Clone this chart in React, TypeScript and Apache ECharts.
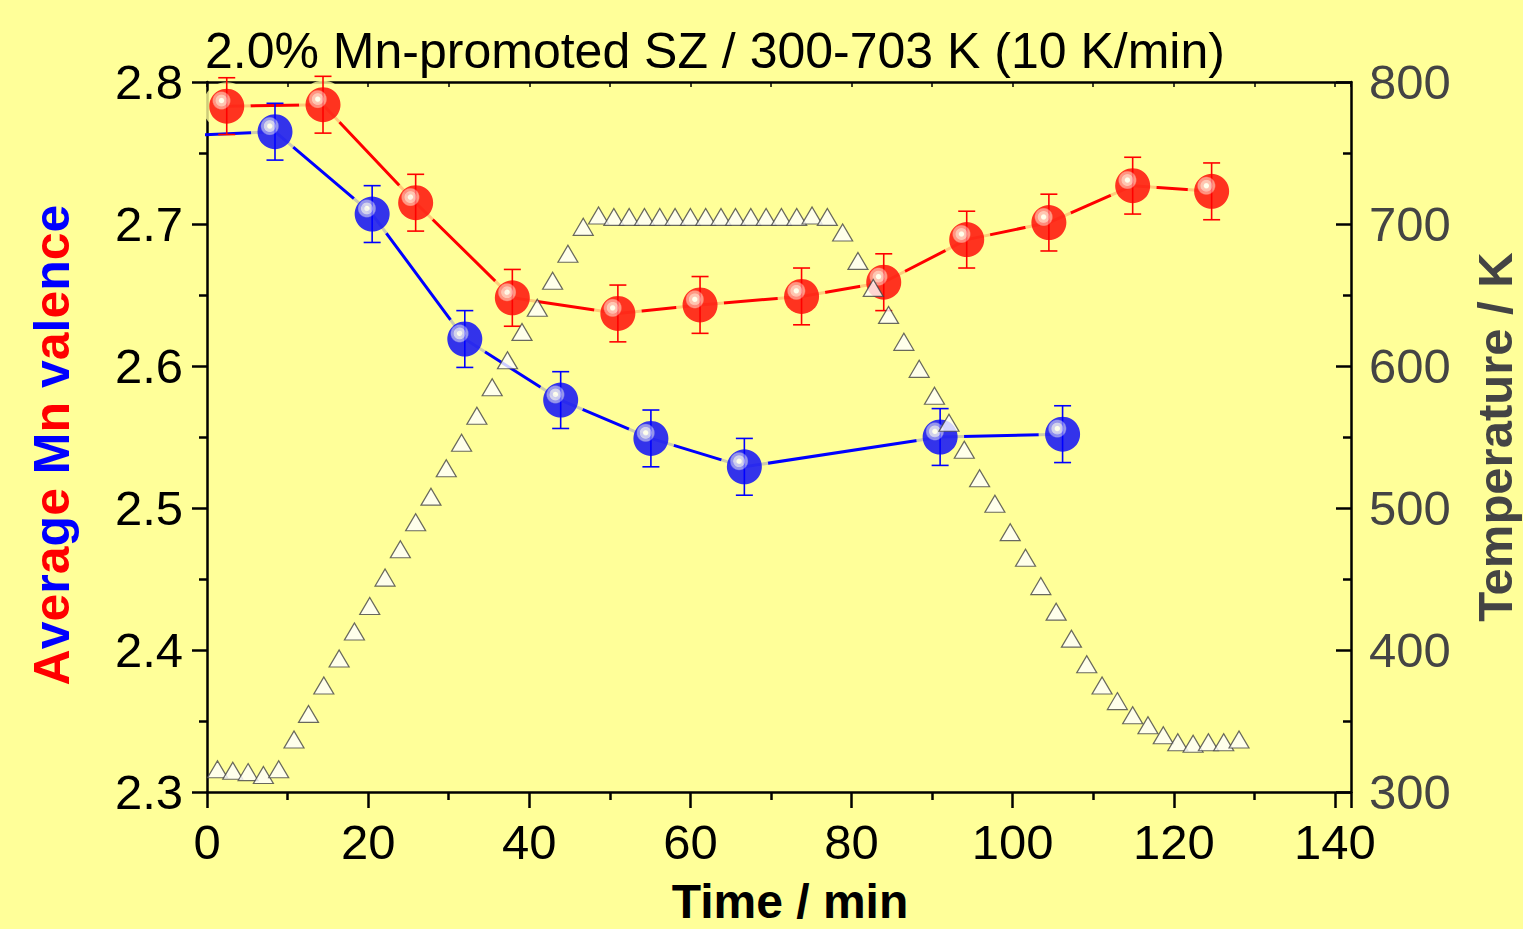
import React, { useEffect, useRef } from "react";
import * as echarts from "echarts";

// Red series (Average Mn valence, red)
const redTime = [2.45, 14.4, 25.9, 37.9, 51.0, 61.2, 73.8, 84.0, 94.3, 104.5, 114.9, 124.7];
const redVal = [2.783, 2.784, 2.715, 2.648, 2.637, 2.643, 2.649, 2.659, 2.689, 2.701, 2.727, 2.723];
const redErr = [0.02, 0.02, 0.02, 0.02, 0.02, 0.02, 0.02, 0.02, 0.02, 0.02, 0.02, 0.02];

// Blue series (first point lies left of the axis and is clipped)
const blueTime = [-4, 8.44, 20.5, 32.0, 43.9, 55.1, 66.7, 91.0, 106.2];
const blueVal = [2.762, 2.765, 2.707, 2.619, 2.576, 2.549, 2.529, 2.55, 2.552];
const blueErr = [0, 0.02, 0.02, 0.02, 0.02, 0.02, 0.02, 0.02, 0.02];

// Temperature profile (right axis)
const tempTime = [
  1.3, 3.2, 5.1, 7.0, 8.9, 10.8, 12.6, 14.5, 16.4, 18.3, 20.2, 22.1, 24.0, 25.9, 27.8, 29.7, 31.6,
  33.5, 35.4, 37.3, 39.1, 41.0, 42.9, 44.8, 46.7, 48.6, 50.5, 52.4, 54.3, 56.2, 58.1, 60.0, 61.9,
  63.8, 65.6, 67.5, 69.4, 71.3, 73.2, 75.1, 77.0, 78.9, 80.8, 82.7, 84.6, 86.5, 88.4, 90.3, 92.1,
  94.0, 95.9, 97.8, 99.7, 101.6, 103.5, 105.4, 107.3, 109.2, 111.1, 113.0, 114.9, 116.8, 118.7,
  120.5, 122.4, 124.3, 126.2, 128.1,
];
const tempVal = [
  316, 315, 314, 312, 316, 337, 355, 375, 394, 413, 431, 451, 471, 490, 508, 528, 546, 565, 585,
  604, 624, 641, 660, 679, 698, 706, 705, 705, 705, 705, 705, 705, 705, 705, 705, 705, 705, 705,
  705, 706, 705, 694, 674, 655, 636, 617, 598, 579, 560, 541, 521, 503, 483, 465, 445, 427, 408,
  390, 375, 364, 354, 347, 340, 335, 334, 335, 335, 337,
];

const xTicks = { min: 0, max: 142, interval: 20 };
const yLeft = { min: 2.3, max: 2.8, interval: 0.1 };
const yRight = { min: 300, max: 800, interval: 100 };

const titleText = "2.0% Mn-promoted SZ / 300-703 K (10 K/min)";
const xName = "Time / min";
const yRightName = "Temperature / K";
const yLeftName =
  "{r|A}{b|v}{r|e}{b|r}{r|a}{b|g}{r|e} {b|M}{r|n} {b|v}{r|a}{b|l}{r|e}{b|n}{r|c}{b|e}";

const FONT = "'Liberation Sans', Arial, Helvetica, sans-serif";
const BG = "#ffff99";

function ball(main: string, ring1: string, ring2: string) {
  return {
    type: "radial",
    x: 0.35,
    y: 0.34,
    r: 0.3,
    colorStops: [
      { offset: 0, color: "#ffffff" },
      { offset: 0.2, color: "#ffffff" },
      { offset: 0.3, color: ring1 },
      { offset: 0.52, color: ring1 },
      { offset: 0.6, color: ring2 },
      { offset: 0.78, color: ring2 },
      { offset: 0.9, color: main },
      { offset: 1, color: main },
    ],
  };
}

function errorBars(color: string) {
  return (params: any, api: any) => {
    const x = api.value(0);
    const y = api.value(1);
    const e = api.value(2);
    if (!e) return null;
    const c = api.coord([x, y]);
    const t = api.coord([x, y + e]);
    const b = api.coord([x, y - e]);
    const hw = 8.5;
    const style = { stroke: color, lineWidth: 1.6 };
    return {
      type: "group",
      children: [
        { type: "line", shape: { x1: c[0], y1: t[1], x2: c[0], y2: b[1] }, style },
        { type: "line", shape: { x1: c[0] - hw, y1: t[1], x2: c[0] + hw, y2: t[1] }, style },
        { type: "line", shape: { x1: c[0] - hw, y1: b[1], x2: c[0] + hw, y2: b[1] }, style },
      ],
    };
  };
}

export default function App() {
  const ref = useRef<HTMLDivElement>(null);
  useEffect(() => {
    const chart = echarts.init(ref.current!, null, { renderer: "svg" });
    const redPts = redTime.map((t, i) => [t, redVal[i]]);
    const bluePts = blueTime.map((t, i) => [t, blueVal[i]]);
    const blueVisible = bluePts.filter((p) => p[0] >= 0);
    const tempPts = tempTime.map((t, i) => [t, tempVal[i]]);
    const axisLineStyle = { color: "#000", width: 2.5 };

    const option: any = {
      animation: false,
      backgroundColor: BG,
      title: {
        text: titleText,
        left: 205,
        top: 26,
        padding: 0,
        textStyle: { fontSize: 50, fontWeight: "normal", color: "#000", fontFamily: FONT },
      },
      grid: {
        left: 207,
        right: 172,
        top: 82,
        bottom: 137,
        containLabel: false,
        outerBoundsMode: "none",
      },
      xAxis: [
        {
          type: "value",
          position: "bottom",
          min: xTicks.min,
          max: xTicks.max,
          interval: xTicks.interval,
          axisLine: { show: true, onZero: false, lineStyle: axisLineStyle },
          axisTick: { show: true, inside: false, length: 16, lineStyle: axisLineStyle },
          minorTick: { show: true, splitNumber: 2, length: 8, lineStyle: axisLineStyle },
          splitLine: { show: false },
          axisLabel: {
            fontSize: 49,
            color: "#000",
            margin: 25,
            fontFamily: FONT,
            showMaxLabel: false,
          },
          name: xName,
          nameLocation: "middle",
          nameGap: 89,
          nameTextStyle: {
            fontSize: 48,
            lineHeight: 40,
            fontWeight: "bold",
            color: "#000",
            fontFamily: FONT,
            padding: [0, 0, 0, 22],
          },
        },
        {
          type: "value",
          position: "top",
          min: xTicks.min,
          max: xTicks.max,
          interval: 10,
          axisLine: { show: true, onZero: false, lineStyle: axisLineStyle },
          axisTick: { show: true, inside: true, length: 5, lineStyle: { color: "#000", width: 1.5 } },
          axisLabel: { show: false },
          splitLine: { show: false },
        },
      ],
      yAxis: [
        {
          type: "value",
          position: "left",
          min: yLeft.min,
          max: yLeft.max,
          interval: yLeft.interval,
          axisLine: { show: true, onZero: false, lineStyle: axisLineStyle },
          axisTick: { show: true, inside: false, length: 15, lineStyle: axisLineStyle },
          minorTick: { show: true, splitNumber: 2, length: 8, lineStyle: axisLineStyle },
          splitLine: { show: false },
          axisLabel: {
            fontSize: 49,
            color: "#000",
            margin: 24,
            fontFamily: FONT,
            formatter: (v: number) => v.toFixed(1),
          },
          name: yLeftName,
          nameLocation: "middle",
          nameGap: 130,
          nameTextStyle: {
            fontSize: 50,
            fontWeight: "bold",
            fontFamily: FONT,
            padding: [0, 16, 0, 0],
            rich: {
              r: { color: "#ff0000", fontSize: 50, fontWeight: "bold", fontFamily: FONT },
              b: { color: "#0000ff", fontSize: 50, fontWeight: "bold", fontFamily: FONT },
            },
          },
        },
        {
          type: "value",
          position: "right",
          min: yRight.min,
          max: yRight.max,
          interval: yRight.interval,
          axisLine: { show: true, onZero: false, lineStyle: axisLineStyle },
          axisTick: { show: true, inside: true, length: 15, lineStyle: axisLineStyle },
          minorTick: { show: true, splitNumber: 2, length: 8, lineStyle: axisLineStyle },
          splitLine: { show: false },
          axisLabel: { fontSize: 49, color: "#444", margin: 18, fontFamily: FONT },
          name: yRightName,
          nameLocation: "middle",
          nameGap: 124,
          nameTextStyle: {
            fontSize: 49,
            lineHeight: 40,
            fontWeight: "bold",
            color: "#444",
            fontFamily: FONT,
          },
        },
      ],
      series: [
        {
          type: "line",
          data: redPts,
          symbol: "none",
          lineStyle: { color: "#ff0000", width: 3 },
          z: 2,
        },
        {
          type: "line",
          data: bluePts,
          symbol: "none",
          clip: true,
          lineStyle: { color: "#0000ff", width: 3 },
          z: 2,
        },
        {
          type: "scatter",
          data: redPts,
          symbol: "circle",
          symbolSize: 48,
          itemStyle: { color: BG },
          z: 3,
          silent: true,
        },
        {
          type: "scatter",
          data: blueVisible,
          symbol: "circle",
          symbolSize: 48,
          itemStyle: { color: BG },
          z: 3,
          silent: true,
        },
        {
          type: "custom",
          data: redTime.map((t, i) => [t, redVal[i], redErr[i]]),
          encode: { x: 0, y: 1 },
          renderItem: errorBars("#ff0000"),
          z: 4,
        },
        {
          type: "custom",
          data: blueTime.map((t, i) => [t, blueVal[i], blueErr[i]]),
          encode: { x: 0, y: 1 },
          renderItem: errorBars("#0000ff"),
          z: 4,
        },
        {
          type: "scatter",
          data: redPts,
          symbol: "circle",
          symbolSize: 35,
          itemStyle: { color: ball("#ff0000", "#ffb8b8", "#ff7c7c") },
          z: 5,
        },
        {
          type: "scatter",
          data: blueVisible,
          symbol: "circle",
          symbolSize: 35,
          itemStyle: { color: ball("#0000ff", "#c8c8ff", "#7c7cff") },
          z: 5,
        },
        {
          type: "scatter",
          yAxisIndex: 1,
          data: tempPts,
          symbol: "triangle",
          symbolSize: [20, 17],
          itemStyle: { color: "#ffffff", borderColor: "#444", borderWidth: 1.2 },
          z: 6,
        },
      ],
    };
    chart.setOption(option);
    return () => chart.dispose();
  }, []);
  return (
    <div
      ref={ref}
      style={{ position: "fixed", left: 0, top: 0, width: 1523, height: 929, background: BG }}
    />
  );
}
